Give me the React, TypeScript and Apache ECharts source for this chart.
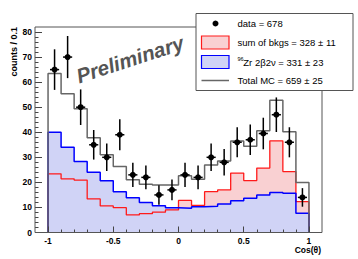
import React, { useEffect, useRef } from "react";
import * as echarts from "echarts";

// Bin edges and centers of the Cos(theta) histogram
const binEdges = [-1, -0.9, -0.8, -0.7, -0.6, -0.5, -0.4, -0.3, -0.2, -0.1, 0, 0.1, 0.2, 0.3, 0.4, 0.5, 0.6, 0.7, 0.8, 0.9, 1];
const binCenters = [-0.95, -0.85, -0.75, -0.65, -0.55, -0.45, -0.35, -0.25, -0.15, -0.05, 0.05, 0.15, 0.25, 0.35, 0.45, 0.55, 0.65, 0.75, 0.85, 0.95];

// Data points (counts / 0.1) and their errors
const dataCounts = [65, 70, 50, 35, 30, 39, 23, 22, 15, 17, 23, 22, 30, 28, 36, 37, 39.5, 47, 36, 14];
const dataErrors = [8.1, 8.4, 7.1, 5.9, 5.5, 6.2, 4.8, 4.7, 3.9, 4.1, 4.8, 4.7, 5.5, 5.3, 6.0, 6.1, 6.3, 6.9, 6.0, 3.7];

// Sum of backgrounds
const bkgs = [23.4, 21.4, 20.9, 13.4, 10.6, 9.9, 7.0, 7.5, 8.1, 9.0, 12.8, 10.8, 16.3, 17.0, 23.7, 20.7, 25.7, 36.6, 24.3, 12.3];
// 96Zr 2b2v
const zr = [40, 34, 28.3, 24, 20.6, 16.3, 13.9, 12, 10.7, 9.9, 9.7, 10.3, 10.5, 11.4, 12.7, 13.7, 15, 16, 15.7, 7.7];
// Total MC
const totalMC = [63.4, 55.4, 49.4, 37.8, 31.0, 26.3, 21.0, 19.3, 19.0, 19.0, 22.6, 21.2, 26.9, 28.5, 36.5, 34.4, 40.6, 52.8, 40.2, 20.0];

// Axis ticks
const xMajorTicks = [-1, -0.5, 0, 0.5, 1];
const xMinorTicks = [-0.9, -0.8, -0.7, -0.6, -0.4, -0.3, -0.2, -0.1, 0.1, 0.2, 0.3, 0.4, 0.6, 0.7, 0.8, 0.9];
const yMajorTicks = [0, 10, 20, 30, 40, 50, 60, 70, 80];
const yMinorTicks = [2, 4, 6, 8, 12, 14, 16, 18, 22, 24, 26, 28, 32, 34, 36, 38, 42, 44, 46, 48, 52, 54, 56, 58, 62, 64, 66, 68, 72, 74, 76, 78];

const FONT = "Liberation Sans, Arial, Helvetica, sans-serif";
const RED_FILL = "#f9d0d2";
const BLUE_FILL = "#d0d3f6";

function stepPoints(edges: number[], values: number[]): number[][] {
  const pts: number[][] = [[edges[0], 0]];
  for (let i = 0; i < values.length; i++) {
    pts.push([edges[i], values[i]]);
    pts.push([edges[i + 1], values[i]]);
  }
  pts.push([edges[edges.length - 1], 0]);
  return pts;
}

export default function App() {
  const ref = useRef<HTMLDivElement>(null);
  useEffect(() => {
    if (!ref.current) return;
    const chart = echarts.init(ref.current, null, { renderer: "svg" });
    const XMIN = -1.1, XMAX = 1.1, YMIN = 0, YMAX = 82;
    const xHalf = 0.035;

    const xBase = {
      type: "value", min: XMIN, max: XMAX, position: "bottom", z: 10,
      splitLine: { show: false },
      axisLine: { show: false, onZero: false },
    };
    const yBase = {
      type: "value", min: YMIN, max: YMAX, position: "left", z: 10,
      splitLine: { show: false },
      axisLine: { show: false, onZero: false },
    };

    const option: any = {
      animation: false,
      backgroundColor: "#fff",
      grid: { left: 35, right: 36, top: 27, bottom: 26.5, containLabel: false },
      xAxis: [
        {
          ...xBase,
          axisTick: { show: true, inside: true, length: 6, customValues: xMajorTicks, lineStyle: { color: "#444", width: 1 } },
          axisLabel: { show: true, customValues: xMajorTicks, margin: 4, fontSize: 8.5, fontWeight: "bold", fontFamily: FONT, color: "#000" },
        },
        {
          ...xBase,
          axisTick: { show: true, inside: true, length: 3, customValues: xMinorTicks, lineStyle: { color: "#444", width: 1 } },
          axisLabel: { show: false },
        },
      ],
      yAxis: [
        {
          ...yBase,
          axisTick: { show: true, inside: true, length: 7, customValues: yMajorTicks, lineStyle: { color: "#444", width: 1 } },
          axisLabel: { show: true, customValues: yMajorTicks, margin: 3, fontSize: 8.5, fontWeight: "bold", fontFamily: FONT, color: "#000" },
        },
        {
          ...yBase,
          axisTick: { show: true, inside: true, length: 3.5, customValues: yMinorTicks, lineStyle: { color: "#444", width: 1 } },
          axisLabel: { show: false },
        },
      ],
      series: [
        {
          name: "bkgsFill", type: "line", data: stepPoints(binEdges, bkgs), symbol: "none",
          lineStyle: { width: 0, opacity: 0 }, areaStyle: { color: RED_FILL, opacity: 1 }, z: 2,
        },
        {
          name: "zrFill", type: "line", data: stepPoints(binEdges, zr), symbol: "none",
          lineStyle: { width: 0, opacity: 0 }, areaStyle: { color: BLUE_FILL, opacity: 1 }, z: 2,
        },
        {
          name: "sum of bkgs", type: "line", data: stepPoints(binEdges, bkgs), symbol: "none",
          lineStyle: { color: "#ff1a1a", width: 1.3 }, z: 3,
        },
        {
          name: "96Zr 2b2v", type: "line", data: stepPoints(binEdges, zr), symbol: "none",
          lineStyle: { color: "#0000ff", width: 1.5 }, z: 3,
        },
        {
          name: "Total MC", type: "line", data: stepPoints(binEdges, totalMC), symbol: "none",
          lineStyle: { color: "#666", width: 1.5 }, z: 4,
        },
        {
          name: "data", type: "custom", z: 5,
          data: binCenters.map((c, i) => [c, dataCounts[i], dataErrors[i]]),
          renderItem: (params: any, api: any) => {
            const x = api.value(0), y = api.value(1), e = api.value(2);
            const c = api.coord([x, y]);
            const top = api.coord([x, y + e]);
            const bot = api.coord([x, y - e]);
            const l = api.coord([x - xHalf, y]);
            const r = api.coord([x + xHalf, y]);
            return {
              type: "group",
              children: [
                { type: "line", shape: { x1: c[0], y1: top[1], x2: c[0], y2: bot[1] }, style: { stroke: "#000", lineWidth: 1.5 } },
                { type: "line", shape: { x1: l[0], y1: c[1], x2: r[0], y2: c[1] }, style: { stroke: "#000", lineWidth: 1.5 } },
                { type: "circle", shape: { cx: c[0], cy: c[1], r: 3 }, style: { fill: "#000" } },
              ],
            };
          },
        },
      ],
      graphic: [
        // frame
        { type: "rect", z: 50, shape: { x: 35, y: 27, width: 287, height: 205.5 }, style: { fill: "none", stroke: "#555", lineWidth: 1 } },
        // Preliminary
        {
          type: "text", z: 60, x: 130, y: 59, rotation: (18 * Math.PI) / 180,
          style: { text: "Preliminary", fontSize: 20.5, fontWeight: "bold", fontStyle: "italic", fontFamily: FONT, fill: "#555", align: "center", verticalAlign: "middle" },
        },
        // y axis title
        {
          type: "text", z: 60, x: 14, y: 27, rotation: Math.PI / 2,
          style: { text: "counts / 0.1", fontSize: 9, fontWeight: "bold", fontFamily: FONT, fill: "#000", align: "right", verticalAlign: "middle" },
        },
        // x axis title
        {
          type: "text", z: 60, x: 321, y: 250,
          style: { text: "Cos(\u03b8)", fontSize: 8.5, fontWeight: "bold", fontFamily: FONT, fill: "#000", align: "right", verticalAlign: "middle" },
        },
        // legend
        { type: "rect", z: 70, shape: { x: 196, y: 13.5, width: 157, height: 77 }, style: { fill: "#fff", stroke: "#555", lineWidth: 1 } },
        { type: "circle", z: 71, shape: { cx: 215.5, cy: 23.5, r: 3 }, style: { fill: "#000" } },
        { type: "rect", z: 71, shape: { x: 201.5, y: 36, width: 27.5, height: 13 }, style: { fill: RED_FILL, stroke: "#ff1a1a", lineWidth: 1.2 } },
        { type: "rect", z: 71, shape: { x: 201.5, y: 55.5, width: 27.5, height: 13 }, style: { fill: BLUE_FILL, stroke: "#0000ff", lineWidth: 1.2 } },
        { type: "line", z: 71, shape: { x1: 201.5, y1: 80.5, x2: 229, y2: 80.5 }, style: { stroke: "#666", lineWidth: 1.5 } },
        { type: "text", z: 71, x: 237.5, y: 23.5, style: { text: "data = 678", fontSize: 9.5, fontFamily: FONT, fill: "#000", align: "left", verticalAlign: "middle" } },
        { type: "text", z: 71, x: 237.5, y: 42.5, style: { text: "sum of bkgs = 328 \u00b1 11", fontSize: 9.5, fontFamily: FONT, fill: "#000", align: "left", verticalAlign: "middle" } },
        { type: "text", z: 71, x: 237.5, y: 59, style: { text: "96", fontSize: 5.5, fontFamily: FONT, fill: "#000", align: "left", verticalAlign: "middle" } },
        { type: "text", z: 71, x: 243.3, y: 62.3, style: { text: "Zr 2\u03b22\u03bd = 331 \u00b1 23", fontSize: 9.5, fontFamily: FONT, fill: "#000", align: "left", verticalAlign: "middle" } },
        { type: "text", z: 71, x: 237.5, y: 80.5, style: { text: "Total MC = 659 \u00b1 25", fontSize: 9.5, fontFamily: FONT, fill: "#000", align: "left", verticalAlign: "middle" } },
      ],
    };
    chart.setOption(option);
    return () => chart.dispose();
  }, []);
  return (
    <div
      ref={ref}
      style={{ position: "fixed", left: 0, top: 0, width: 358, height: 259, background: "#fff" }}
    />
  );
}
